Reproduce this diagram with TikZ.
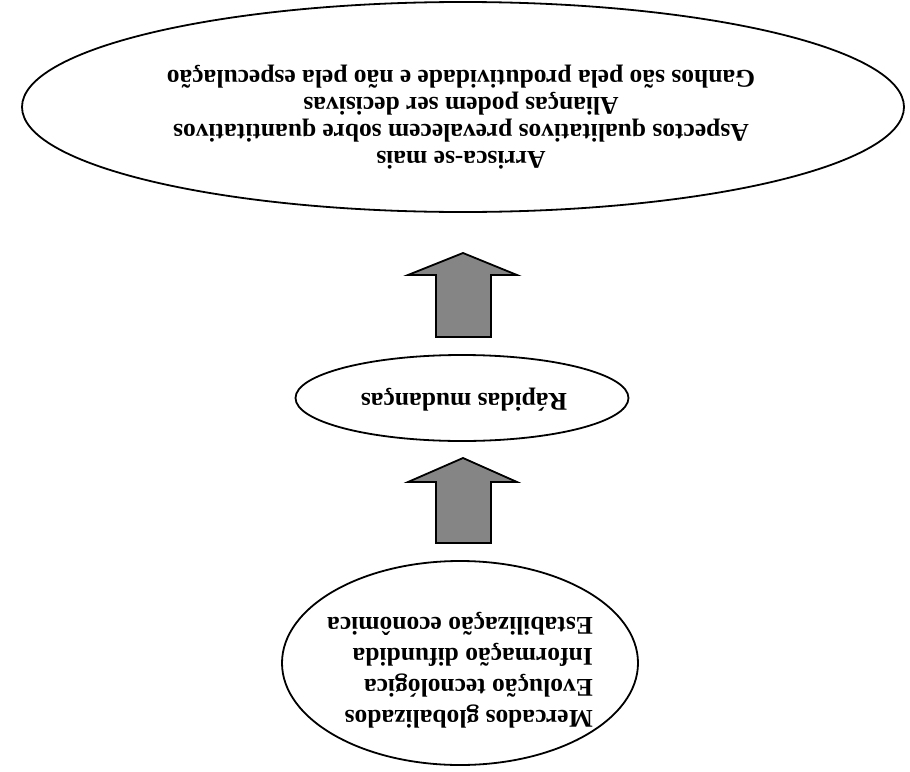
\documentclass[tikz,border=0pt]{standalone}
\usepackage{fontspec}
\setmainfont{Liberation Serif}
\usetikzlibrary{shapes.geometric}
\begin{document}
\begin{tikzpicture}[x=1pt,y=-1pt,
  oval/.style={draw=black, line width=1.8pt, ellipse, inner sep=0pt},
  upside/.style={rotate=180, font=\bfseries\fontsize{25.5}{27}\selectfont, inner sep=0pt},
  blockarrow/.style={draw=black, line width=1.8pt, fill=black!48, line join=miter}]
  \useasboundingbox (0,0) rectangle (910,771);
  % three ovals
  \node[oval, minimum width=882pt, minimum height=210pt] (top) at (463,107) {};
  \node[oval, minimum width=333pt, minimum height=86pt] (mid) at (462,398) {};
  \node[oval, minimum width=356pt, minimum height=204pt] (bot) at (460,663) {};
  % texts, printed upside down
  \node[upside, align=center] (toptext) at (461,117)
    {Arrisca-se mais\\
     Aspectos qualitativos prevalecem sobre quantitativos\\
     Alianças podem ser decisivas\\
     Ganhos são pela produtividade e não pela especulação};
  \node[upside] (midtext) at (464,400) {Rápidas mudanças};
  \node[upside, align=left, font=\bfseries\fontsize{25.5}{31}\selectfont] (bottext) at (460,670)
    {Mercados globalizados\\
     Evolução tecnológica\\
     Informação difundida\\
     Estabilização econômica};
  % block arrows between the ovals
  \draw[blockarrow] (436,543) -- (436,482) -- (408,482) -- (463,458)
    -- (517,482) -- (491,482) -- (491,543) -- cycle;
  \draw[blockarrow] (436,337) -- (436,275) -- (408,275) -- (463,253)
    -- (517,275) -- (491,275) -- (491,337) -- cycle;
\end{tikzpicture}
\end{document}
